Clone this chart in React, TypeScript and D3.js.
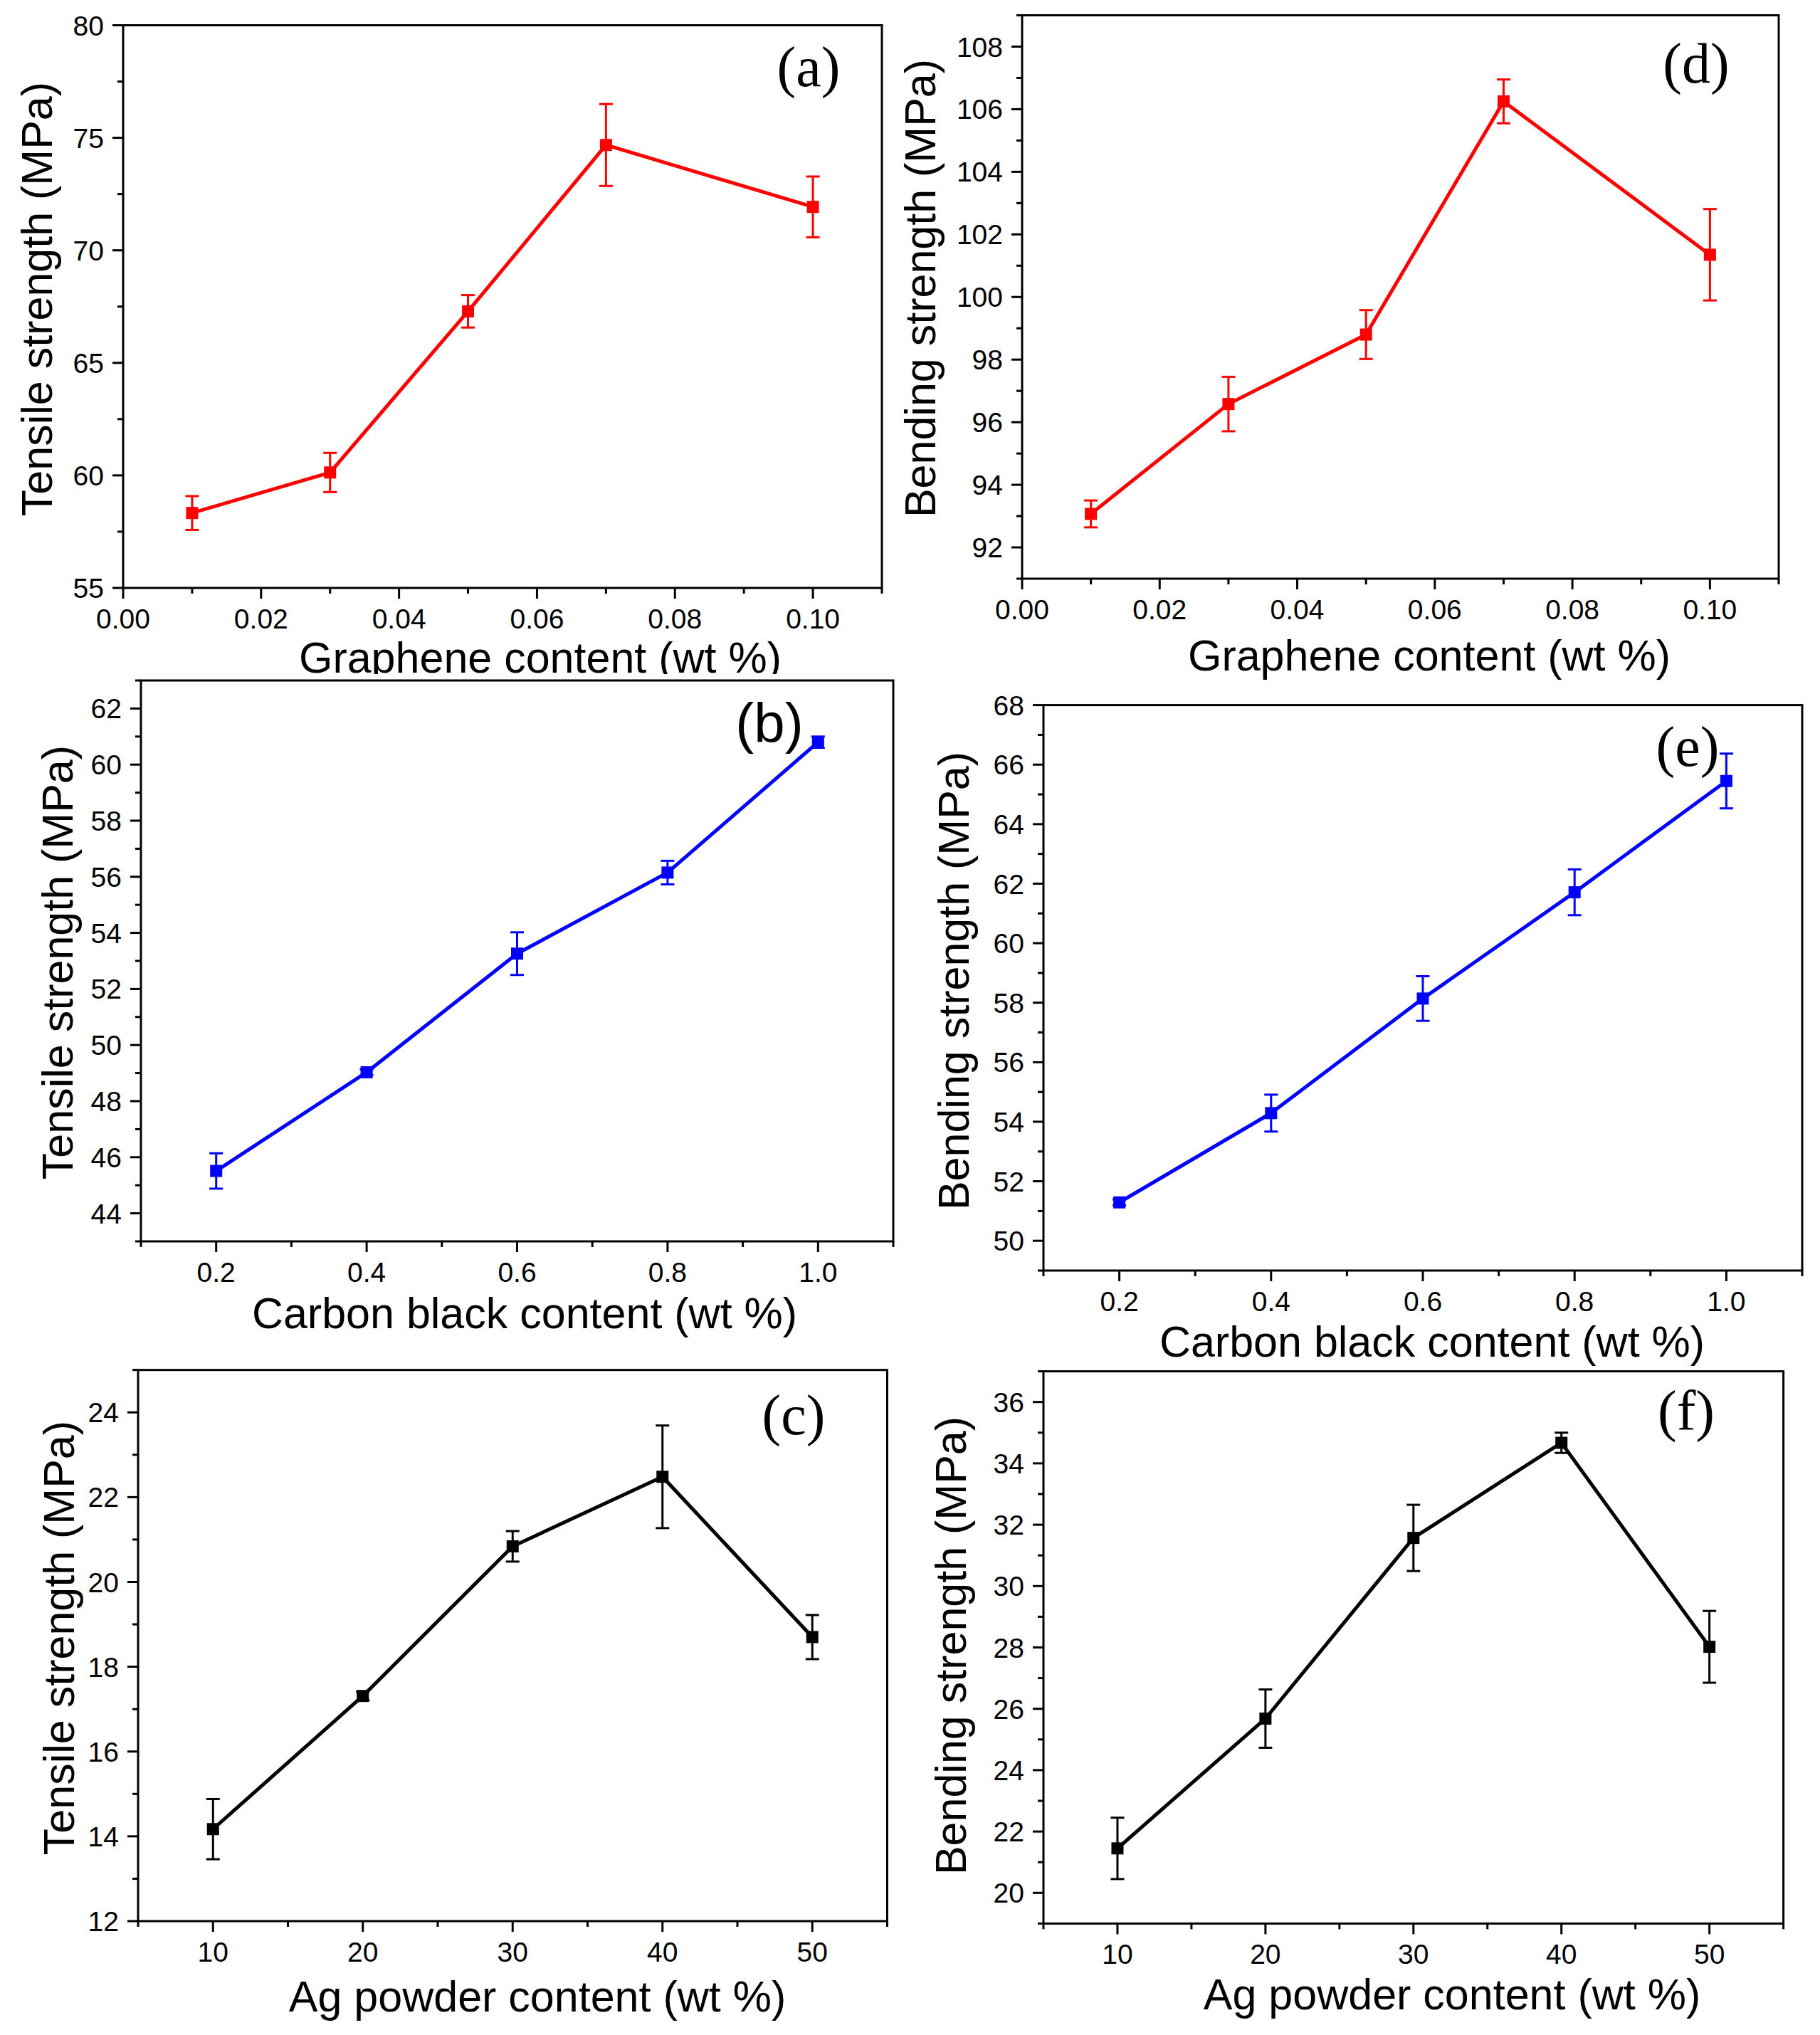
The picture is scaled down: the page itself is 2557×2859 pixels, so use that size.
import React from "react";
import * as d3 from "d3";

// ---------- data ----------
const grapheneX = [0.01, 0.03, 0.05, 0.07, 0.1];
const tensileA = [58.33, 60.13, 67.29, 74.68, 71.93];
const tensileAErr = [0.75, 0.87, 0.72, 1.82, 1.35];
const bendingD = [93.07, 96.58, 98.8, 106.25, 101.35];
const bendingDErr = [0.43, 0.87, 0.78, 0.7, 1.46];

const carbonX = [0.2, 0.4, 0.6, 0.8, 1.0];
const tensileB = [45.51, 49.03, 53.26, 56.15, 60.8];
const tensileBErr = [0.63, 0.1, 0.76, 0.42, 0.2];
const bendingE = [51.29, 54.29, 58.14, 61.71, 65.45];
const bendingEErr = [0.1, 0.62, 0.75, 0.77, 0.92];

const agX = [10, 20, 30, 40, 50];
const tensileC = [14.17, 17.31, 20.84, 22.48, 18.7];
const tensileCErr = [0.71, 0.1, 0.36, 1.21, 0.52];
const bendingF = [21.45, 25.68, 31.57, 34.67, 28.02];
const bendingFErr = [1.0, 0.95, 1.08, 0.33, 1.17];

const grapheneTicks = [0, 0.02, 0.04, 0.06, 0.08, 0.1];
const carbonTicks = [0.2, 0.4, 0.6, 0.8, 1.0];
const agTicks = [10, 20, 30, 40, 50];
const yTicksA = [55, 60, 65, 70, 75, 80];
const yTicksD = [92, 94, 96, 98, 100, 102, 104, 106, 108];
const yTicksB = [44, 46, 48, 50, 52, 54, 56, 58, 60, 62];
const yTicksE = [50, 52, 54, 56, 58, 60, 62, 64, 66, 68];
const yTicksC = [12, 14, 16, 18, 20, 22, 24];
const yTicksF = [20, 22, 24, 26, 28, 30, 32, 34, 36];

const xTitles = ["Graphene content (wt %)", "Carbon black content (wt %)", "Ag powder content (wt %)"];
const yTitles = ["Tensile strength (MPa)", "Bending strength (MPa)"];

const SANS = "'Liberation Sans', Arial, 'DejaVu Sans', sans-serif";
const SERIF = "'Liberation Serif', 'Times New Roman', 'DejaVu Serif', serif";

type PanelProps = {
  id: string;
  box: [number, number, number, number]; // left, right, top, bottom
  xDomain: [number, number];
  yDomain: [number, number];
  xTicks: number[];
  xMinorStep: number;
  xFmt: (v: number) => string;
  yTicks: number[];
  yMinorStep: number;
  xs: number[];
  ys: number[];
  errs: number[];
  color: string;
  xTitle: string;
  yTitle: string;
  xTitlePos: [number, number];
  yTitlePos: [number, number];
  label: string;
  labelPos: [number, number];
  labelFont: string;
  labelSize: number;
  xTitleClip?: number;
};

function minorTicks(domain: [number, number], step: number) {
  const out: number[] = [];
  const n = Math.round((domain[1] - domain[0]) / step);
  for (let i = 0; i <= n; i++) out.push(domain[0] + i * step);
  return out;
}

function Panel(p: PanelProps) {
  const [L, R, T, B] = p.box;
  const x = d3.scaleLinear().domain(p.xDomain).range([L, R]);
  const y = d3.scaleLinear().domain(p.yDomain).range([B, T]);
  const line = d3
    .line<number>()
    .x((_, i) => x(p.xs[i]))
    .y((v) => y(v));
  const MAJ = 15;
  const MIN = 8;
  const xMinor = minorTicks(p.xDomain, p.xMinorStep).filter(
    (v) => !p.xTicks.some((t) => Math.abs(t - v) < 1e-9)
  );
  const yMinor = minorTicks(p.yDomain, p.yMinorStep).filter(
    (v) => !p.yTicks.some((t) => Math.abs(t - v) < 1e-9)
  );
  const ms = 17;
  const cap = 9.5;
  return (
    <g>
      {p.xTitleClip !== undefined && (
        <defs>
          <clipPath id={`clip-${p.id}`}>
            <rect x={0} y={0} width={2557} height={p.xTitleClip} />
          </clipPath>
        </defs>
      )}
      {/* frame */}
      <rect x={L} y={T} width={R - L} height={B - T} fill="none" stroke="#000" strokeWidth={3} />
      {/* x ticks */}
      {p.xTicks.map((t) => (
        <g key={`xt${t}`}>
          <line x1={x(t)} x2={x(t)} y1={B} y2={B + MAJ} stroke="#000" strokeWidth={3} />
          <text x={x(t)} y={B + 57} textAnchor="middle" fontFamily={SANS} fontSize={39} fill="#000">
            {p.xFmt(t)}
          </text>
        </g>
      ))}
      {xMinor.map((t) => (
        <line key={`xm${t}`} x1={x(t)} x2={x(t)} y1={B} y2={B + MIN} stroke="#000" strokeWidth={3} />
      ))}
      {/* y ticks */}
      {p.yTicks.map((t) => (
        <g key={`yt${t}`}>
          <line x1={L - MAJ} x2={L} y1={y(t)} y2={y(t)} stroke="#000" strokeWidth={3} />
          <text
            x={L - MAJ - 12}
            y={y(t)}
            dy="0.36em"
            textAnchor="end"
            fontFamily={SANS}
            fontSize={39}
            fill="#000"
          >
            {t}
          </text>
        </g>
      ))}
      {yMinor.map((t) => (
        <line key={`ym${t}`} x1={L - MIN} x2={L} y1={y(t)} y2={y(t)} stroke="#000" strokeWidth={3} />
      ))}
      {/* titles */}
      <text
        x={p.xTitlePos[0]}
        y={p.xTitlePos[1]}
        textAnchor="middle"
        fontFamily={SANS}
        fontSize={61}
        fill="#000"
        clipPath={p.xTitleClip !== undefined ? `url(#clip-${p.id})` : undefined}
      >
        {p.xTitle}
      </text>
      <text
        transform={`translate(${p.yTitlePos[0]},${p.yTitlePos[1]}) rotate(-90)`}
        textAnchor="middle"
        fontFamily={SANS}
        fontSize={61}
        fill="#000"
      >
        {p.yTitle}
      </text>
      {/* data line */}
      <path d={line(p.ys) || ""} fill="none" stroke={p.color} strokeWidth={5} strokeLinejoin="round" />
      {/* error bars */}
      {p.ys.map((v, i) => {
        const cx = x(p.xs[i]);
        const yt = y(v + p.errs[i]);
        const yb = y(v - p.errs[i]);
        return (
          <g key={`e${i}`} stroke={p.color} strokeWidth={3}>
            <line x1={cx} x2={cx} y1={yt} y2={yb} />
            <line x1={cx - cap} x2={cx + cap} y1={yt} y2={yt} />
            <line x1={cx - cap} x2={cx + cap} y1={yb} y2={yb} />
          </g>
        );
      })}
      {/* markers */}
      {p.ys.map((v, i) => (
        <rect
          key={`m${i}`}
          x={x(p.xs[i]) - ms / 2}
          y={y(v) - ms / 2}
          width={ms}
          height={ms}
          fill={p.color}
        />
      ))}
      {/* panel label */}
      <text
        x={p.labelPos[0]}
        y={p.labelPos[1]}
        textAnchor="middle"
        fontFamily={p.labelFont}
        fontSize={p.labelSize}
        fill="#000"
      >
        {p.label}
      </text>
    </g>
  );
}

const fmt2 = (v: number) => d3.format(".2f")(v);
const fmt1 = (v: number) => d3.format(".1f")(v);
const fmt0 = (v: number) => d3.format("d")(v);

export default function App() {
  return (
    <svg
      width={2557}
      height={2859}
      viewBox="0 0 2557 2859"
      style={{ position: "absolute", left: 0, top: 0, background: "#fff" }}
    >
      <rect x={0} y={0} width={2557} height={2859} fill="#fff" />
      <Panel
        id="a"
        box={[173, 1239, 35.5, 826]}
        xDomain={[0, 0.11]}
        yDomain={[55, 80]}
        xTicks={grapheneTicks}
        xMinorStep={0.01}
        xFmt={fmt2}
        yTicks={yTicksA}
        yMinorStep={2.5}
        xs={grapheneX}
        ys={tensileA}
        errs={tensileAErr}
        color="#ff0000"
        xTitle={xTitles[0]}
        yTitle={yTitles[0]}
        xTitlePos={[759, 945]}
        yTitlePos={[73, 420]}
        label="(a)"
        labelPos={[1136, 121]}
        labelFont={SERIF}
        labelSize={80}
        xTitleClip={947}
      />
      <Panel
        id="d"
        box={[1436, 2499, 21.5, 813]}
        xDomain={[0, 0.11]}
        yDomain={[91, 109]}
        xTicks={grapheneTicks}
        xMinorStep={0.01}
        xFmt={fmt2}
        yTicks={yTicksD}
        yMinorStep={1}
        xs={grapheneX}
        ys={bendingD}
        errs={bendingDErr}
        color="#ff0000"
        xTitle={xTitles[0]}
        yTitle={yTitles[1]}
        xTitlePos={[2008, 942]}
        yTitlePos={[1314, 405]}
        label="(d)"
        labelPos={[2383, 116]}
        labelFont={SERIF}
        labelSize={80}
      />
      <Panel
        id="b"
        box={[198, 1255, 956, 1744]}
        xDomain={[0.1, 1.1]}
        yDomain={[43, 63]}
        xTicks={carbonTicks}
        xMinorStep={0.1}
        xFmt={fmt1}
        yTicks={yTicksB}
        yMinorStep={1}
        xs={carbonX}
        ys={tensileB}
        errs={tensileBErr}
        color="#0000ff"
        xTitle={xTitles[1]}
        yTitle={yTitles[0]}
        xTitlePos={[737, 1866]}
        yTitlePos={[102, 1352]}
        label="(b)"
        labelPos={[1081, 1043]}
        labelFont={SANS}
        labelSize={78}
      />
      <Panel
        id="e"
        box={[1466, 2532, 990.6, 1785]}
        xDomain={[0.1, 1.1]}
        yDomain={[49, 68]}
        xTicks={carbonTicks}
        xMinorStep={0.1}
        xFmt={fmt1}
        yTicks={yTicksE}
        yMinorStep={1}
        xs={carbonX}
        ys={bendingE}
        errs={bendingEErr}
        color="#0000ff"
        xTitle={xTitles[1]}
        yTitle={yTitles[1]}
        xTitlePos={[2012, 1906]}
        yTitlePos={[1361, 1378]}
        label="(e)"
        labelPos={[2371, 1076]}
        labelFont={SERIF}
        labelSize={80}
      />
      <Panel
        id="c"
        box={[194, 1246.5, 1924.7, 2699]}
        xDomain={[5, 55]}
        yDomain={[12, 25]}
        xTicks={agTicks}
        xMinorStep={5}
        xFmt={fmt0}
        yTicks={yTicksC}
        yMinorStep={1}
        xs={agX}
        ys={tensileC}
        errs={tensileCErr}
        color="#000000"
        xTitle={xTitles[2]}
        yTitle={yTitles[0]}
        xTitlePos={[755, 2826]}
        yTitlePos={[104, 2301]}
        label="(c)"
        labelPos={[1115, 2015]}
        labelFont={SERIF}
        labelSize={80}
      />
      <Panel
        id="f"
        box={[1466, 2505.6, 1926.6, 2702.4]}
        xDomain={[5, 55]}
        yDomain={[19, 37]}
        xTicks={agTicks}
        xMinorStep={5}
        xFmt={fmt0}
        yTicks={yTicksF}
        yMinorStep={1}
        xs={agX}
        ys={bendingF}
        errs={bendingFErr}
        color="#000000"
        xTitle={xTitles[2]}
        yTitle={yTitles[1]}
        xTitlePos={[2040, 2823]}
        yTitlePos={[1357, 2312]}
        label="(f)"
        labelPos={[2369, 2009]}
        labelFont={SERIF}
        labelSize={80}
      />
    </svg>
  );
}
